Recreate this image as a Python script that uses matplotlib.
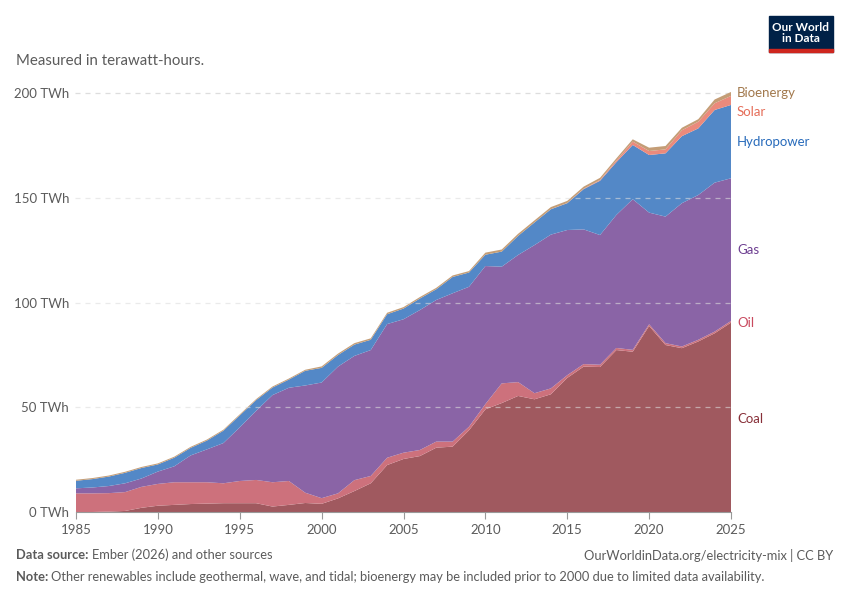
import numpy as np
import matplotlib
matplotlib.use("Agg")
import matplotlib.pyplot as plt
from matplotlib.patches import Rectangle

plt.rcParams['font.family'] = ['Lato', 'DejaVu Sans']

years = list(range(1985, 2026))

# electricity generation by source, TWh
coal = [0.0, 0.0, 0.2, 0.5, 2.0, 3.0, 3.4, 3.8, 4.0, 4.2, 4.2, 4.2, 2.6, 3.4, 4.3,
        3.9, 6.5, 10.0, 13.7, 22.4, 25.3, 26.7, 30.7, 31.2, 39.0, 49.0, 52.0, 55.4,
        53.8, 56.2, 64.0, 69.4, 69.2, 77.3, 76.5, 88.8, 79.7, 78.2, 81.4, 85.3, 90.4]
oil = [8.9, 8.9, 8.8, 9.0, 10.0, 10.4, 10.8, 10.4, 10.2, 9.5, 10.6, 11.1, 11.6, 11.4,
       4.9, 2.7, 2.4, 5.2, 3.5, 3.5, 3.0, 2.9, 2.9, 2.4, 1.7, 2.5, 9.4, 6.6, 2.9, 2.8,
       1.3, 1.2, 1.1, 1.0, 0.9, 0.8, 0.9, 0.8, 0.8, 0.8, 0.8]
gas = [2.4, 2.8, 3.4, 4.2, 4.0, 5.9, 7.6, 12.8, 15.7, 19.2, 25.6, 33.0, 41.6, 44.5,
       51.2, 55.2, 60.5, 59.3, 60.1, 63.8, 63.7, 66.8, 67.6, 70.8, 66.8, 65.9, 55.7,
       60.7, 70.7, 73.4, 69.3, 64.3, 61.9, 63.5, 71.9, 53.3, 60.4, 68.4, 69.1, 71.1, 68.1]
hydro = [3.6, 4.0, 4.5, 5.0, 5.0, 3.4, 4.1, 3.6, 4.2, 5.9, 5.7, 5.1, 3.6, 3.9, 7.0,
         7.0, 5.5, 5.4, 4.9, 4.7, 5.1, 5.5, 5.1, 7.8, 6.8, 5.4, 7.2, 9.1, 10.8, 12.1,
         12.8, 19.2, 25.9, 25.2, 25.9, 27.5, 30.2, 32.0, 31.8, 34.7, 35.0]
solar = [0, 0, 0, 0, 0, 0, 0, 0, 0, 0, 0, 0, 0, 0, 0, 0, 0, 0, 0, 0, 0, 0, 0, 0, 0,
         0, 0, 0, 0, 0.05, 0.1, 0.2, 0.4, 0.8, 1.6, 1.9, 1.9, 2.8, 3.2, 3.2, 4.3]
bio = [0.5, 0.5, 0.5, 0.5, 0.5, 0.5, 0.5, 0.5, 0.5, 0.5, 0.5, 0.5, 0.5, 0.5, 0.5,
       0.7, 0.7, 0.7, 0.7, 0.7, 0.7, 0.7, 0.7, 0.7, 0.7, 1.0, 1.0, 1.0, 1.0, 1.0,
       1.0, 1.0, 1.0, 1.0, 1.1, 1.6, 1.6, 1.2, 1.2, 1.8, 1.9]

names = ['Coal', 'Oil', 'Gas', 'Hydropower', 'Solar', 'Bioenergy']
fills = ['#a0595f', '#cd717c', '#8a64a6', '#5388c7', '#eb8a7c', '#c49d76']
label_colors = ['#883039', '#c94a5f', '#6d3e91', '#286bbb', '#e56e5a', '#a2794d']
label_y = [419, 323, 250, 142, 112, 93]  # pixel rows of the end labels

fig = plt.figure(figsize=(8.5, 6), dpi=100)
W, H = 850, 600
x0, x1 = 76, 731
y0 = 512
px_per = 2.095
ytop = 201
ax = fig.add_axes([x0 / W, (H - y0) / H, (x1 - x0) / W, ytop * px_per / H])

ax.stackplot(years, coal, oil, gas, hydro, solar, bio, colors=fills, lw=0)

ax.set_xlim(1985, 2025)
ax.set_ylim(0, ytop)
ax.set_yticks([0, 50, 100, 150, 200])
ax.set_yticklabels(['0 TWh', '50 TWh', '100 TWh', '150 TWh', '200 TWh'])
ax.set_xticks(range(1985, 2026, 5))
for s in ['top', 'right', 'left']:
    ax.spines[s].set_visible(False)
ax.spines['bottom'].set_color('#999999')
ax.tick_params(axis='y', length=0, pad=5, labelsize=9.5, labelcolor='#5b5b5b')
ax.tick_params(axis='x', length=5, color='#999999', labelsize=9.5, labelcolor='#5b5b5b')
for v in [50, 100, 150, 200]:
    ax.plot([1984.95, 2025], [v, v], ls=(0, (4, 4)), color='#dddddd', lw=0.9,
            zorder=3 if v < 200 else 0, clip_on=False, alpha=0.6 if v < 200 else 1)
ax.set_axisbelow(True)

for n, c, yy in zip(names, label_colors, label_y):
    fig.text(737 / W, 1 - yy / H, n, color=c, fontsize=9.5, va='center', ha='left')

# header
fig.text(16 / W, 1 - 61 / H, 'Measured in terawatt-hours.', fontsize=10.8,
         color='#5b5b5b', va='center')
fig.patches.append(Rectangle((769 / W, 1 - 52 / H), 64 / W, 36 / H,
                             transform=fig.transFigure, color='#002147'))
fig.patches.append(Rectangle((769 / W, 1 - 52 / H), 64 / W, 3 / H,
                             transform=fig.transFigure, color='#ce261e'))
fig.text(801 / W, 1 - 33 / H, 'Our World\nin Data', fontsize=8.5, color='white',
         ha='center', va='center', fontweight='bold', linespacing=1.0)

# footer
fs = 9.3
r = fig.canvas.get_renderer()
t = fig.text(16 / W, 1 - 555 / H, 'Data source:', fontsize=fs, color='#5b5b5b',
             fontweight='bold', va='center')
bb = t.get_window_extent(r)
fig.text((bb.x1 + 3) / W, 1 - 555 / H, 'Ember (2026) and other sources',
         fontsize=fs, color='#5b5b5b', va='center')
fig.text(833 / W, 1 - 555 / H, 'OurWorldinData.org/electricity-mix | CC BY',
         fontsize=fs, color='#5b5b5b', va='center', ha='right')
t = fig.text(16 / W, 1 - 577 / H, 'Note:', fontsize=fs, color='#5b5b5b',
             fontweight='bold', va='center')
bb = t.get_window_extent(r)
fig.text((bb.x1 + 3) / W, 1 - 577 / H,
         'Other renewables include geothermal, wave, and tidal; bioenergy may be '
         'included prior to 2000 due to limited data availability.',
         fontsize=fs, color='#5b5b5b', va='center')

fig.savefig('out.png', dpi=100)
